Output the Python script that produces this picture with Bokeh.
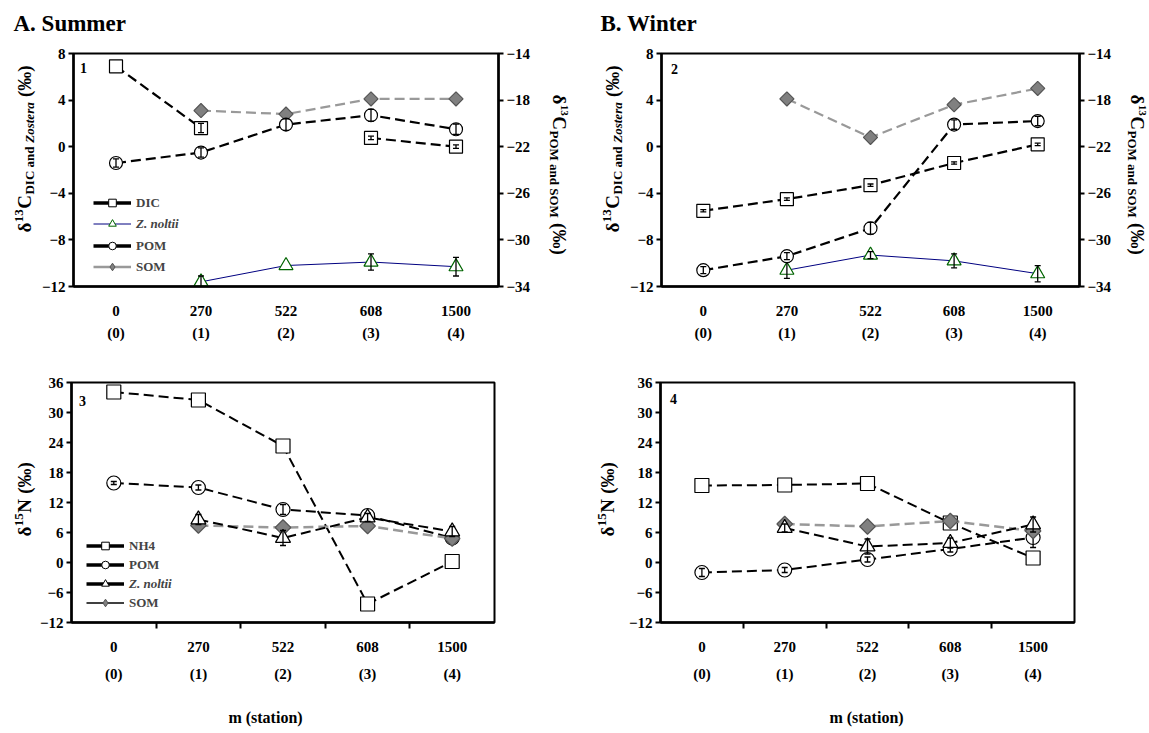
import math
import numpy as np
from bokeh.plotting import figure
from bokeh.models import Range1d, LinearAxis, FixedTicker, Label, Legend, LegendItem
from bokeh.layouts import column, row
from bokeh.embed import file_html
from bokeh.resources import INLINE

FONT = "Liberation Serif"
nan = float("nan")

# ---------------- data ----------------
positions = [1, 2, 3, 4, 5]
distances = ["0", "270", "522", "608", "1500"]
stations = ["(0)", "(1)", "(2)", "(3)", "(4)"]
c13_left_ticks = [-12, -8, -4, 0, 4, 8]
c13_right_ticks = [-34, -30, -26, -22, -18, -14]
n15_ticks = [-12, -6, 0, 6, 12, 18, 24, 30, 36]

# Summer d13C (DIC, Z. noltii on left axis; POM, SOM on right axis)
s13_dic = [6.9, 1.6, nan, 0.75, 0.0]
s13_dic_err = [0.0, 0.4, 0.0, 0.15, 0.15]
s13_zn = [nan, -11.6, -10.2, -9.9, -10.3]
s13_zn_err = [0.0, 0.5, 0.0, 0.7, 0.8]
s13_pom = [-23.4, -22.5, -20.1, -19.3, -20.5]
s13_pom_err = [0.35, 0.4, 0.5, 0.5, 0.45]
s13_som = [nan, -18.9, -19.2, -17.9, -17.9]

# Winter d13C
w13_dic = [-5.5, -4.5, -3.3, -1.4, 0.2]
w13_dic_err = [0.1, 0.1, 0.1, 0.1, 0.1]
w13_zn = [nan, -10.6, -9.3, -9.8, -10.9]
w13_zn_err = [0.0, 0.7, 0.3, 0.6, 0.7]
w13_pom = [-32.6, -31.4, -29.0, -20.1, -19.8]
w13_pom_err = [0.3, 0.3, 0.5, 0.4, 0.4]
w13_som = [nan, -17.9, -21.2, -18.4, -17.0]

# Summer d15N
s15_nh4 = [34.1, 32.5, 23.3, -8.3, 0.2]
s15_pom = [15.9, 15.0, 10.6, 9.4, 4.9]
s15_pom_err = [0.3, 0.5, 1.0, 0.5, 0.5]
s15_zn = [nan, 8.6, 4.9, 9.0, 6.2]
s15_zn_err = [0.0, 1.0, 1.5, 0.8, 1.0]
s15_som = [nan, 7.4, 7.0, 7.3, 4.8]

# Winter d15N
w15_nh4 = [15.4, 15.5, 15.8, 7.9, 0.9]
w15_pom = [-2.0, -1.5, 0.6, 2.7, 5.0]
w15_pom_err = [0.8, 0.5, 0.5, 0.6, 2.0]
w15_zn = [nan, 6.9, 3.2, 3.9, 7.6]
w15_zn_err = [0.0, 0.8, 1.5, 1.0, 1.5]
w15_som = [nan, 7.7, 7.2, 8.3, 6.3]

# ---------------- helpers ----------------
BOLD = {'δ': 500, '1': 500, '3': 500, '5': 500, 'C': 722, 'D': 722, 'I': 389, ' ': 250,
        'a': 500, 'n': 556, 'd': 556, '(': 333, ')': 333, '‰': 1000, 'P': 611,
        'O': 778, 'M': 944, 'S': 556, 'N': 722}
BOLDIT = {'Z': 611, 'o': 500, 's': 389, 't': 278, 'e': 444, 'r': 389, 'a': 500, ' ': 250}


def text_width(t, size, italic):
    table = BOLDIT if italic else BOLD
    return sum(table.get(c, 500) for c in t) / 1000.0 * size


def style_axis(ax):
    ax.axis_line_width = 2.5
    ax.axis_line_color = "black"
    ax.major_tick_line_width = 2
    ax.major_tick_line_color = "black"
    ax.major_tick_out = 5
    ax.major_tick_in = 0
    ax.minor_tick_line_color = None
    ax.major_label_text_font = FONT
    ax.major_label_text_font_style = "bold"
    ax.major_label_text_font_size = "15px"
    ax.major_label_text_color = "black"
    ax.major_label_standoff = 3


def make_fig(bl, fw, br, bt, fh, bb, yr, yticks):
    p = figure(frame_width=fw, frame_height=fh,
               min_border_left=bl, min_border_right=br,
               min_border_top=bt, min_border_bottom=bb,
               x_range=Range1d(0.5, 5.5), y_range=Range1d(*yr), title=None,
               output_backend="svg", toolbar_location=None, tools="")
    p.xgrid.visible = False
    p.ygrid.visible = False
    p.outline_line_color = "black"
    p.outline_line_width = 2
    p.outline_line_alpha = 1
    p.background_fill_color = "white"
    p.border_fill_color = "white"
    ya = p.yaxis[0]
    style_axis(ya)
    ya.ticker = FixedTicker(ticks=yticks)
    return p


def label_fig(w, fh, bt=0, bb=0):
    # plain text strip; its frame matches the neighbouring plots' frames (rows align frames),
    # data units equal pixels, measured from the frame's bottom-left corner
    p = figure(frame_width=w, frame_height=fh, min_border_left=0, min_border_right=0,
               min_border_top=bt, min_border_bottom=bb,
               x_range=Range1d(0, w), y_range=Range1d(0, fh),
               x_axis_type=None, y_axis_type=None, title=None,
               output_backend="svg", toolbar_location=None, tools="")
    p.outline_line_color = None
    p.background_fill_color = "white"
    p.border_fill_color = "white"
    return p


def x_axes_top(p):
    xa = p.xaxis[0]
    style_axis(xa)
    xa.ticker = FixedTicker(ticks=positions)
    xa.major_label_overrides = dict(zip(positions, distances))
    xa.major_tick_line_color = None
    xa.major_tick_out = 0
    xa.major_label_standoff = 19
    xb = LinearAxis(ticker=FixedTicker(ticks=positions),
                    major_label_overrides=dict(zip(positions, stations)))
    style_axis(xb)
    xb.axis_line_color = None
    xb.major_tick_line_color = None
    xb.major_tick_out = 0
    xb.major_label_standoff = 6
    p.add_layout(xb, "below")


def x_axes_bottom(p):
    xt = p.xaxis[0]
    style_axis(xt)
    bounds = [1.5, 2.5, 3.5, 4.5]
    xt.ticker = FixedTicker(ticks=bounds)
    xt.major_label_overrides = {b: "" for b in bounds}
    xt.major_label_text_font_size = "1px"
    xt.major_label_standoff = 0
    xt.major_tick_out = 6
    xa = LinearAxis(ticker=FixedTicker(ticks=positions),
                    major_label_overrides=dict(zip(positions, distances)))
    style_axis(xa)
    xa.axis_line_color = None
    xa.major_tick_line_color = None
    xa.major_tick_out = 0
    xa.major_label_standoff = 13
    p.add_layout(xa, "below")
    xb = LinearAxis(ticker=FixedTicker(ticks=positions),
                    major_label_overrides=dict(zip(positions, stations)))
    style_axis(xb)
    xb.axis_line_color = None
    xb.major_tick_line_color = None
    xb.major_tick_out = 0
    xb.major_label_standoff = 11
    p.add_layout(xb, "below")


def txt(p, fr, px, py, text, size, align="left", baseline="middle", style="bold"):
    # text inside a plot frame, placed by pixel offsets from a data anchor (no rotation)
    fl, fb, x0, y0 = fr
    p.add_layout(Label(x=x0, y=y0, x_offset=px - fl, y_offset=fb - py, text=text,
                       text_font=FONT, text_font_size=f"{size}px", text_font_style=style,
                       text_align=align, text_baseline=baseline, text_color="black"))


def ltxt(p, left, bottom, px, py, text, size, angle=0.0, align="left", baseline="middle",
         style="bold"):
    # text in a label strip: left/bottom are the page coordinates of its frame corner
    p.add_layout(Label(x=px - left, y=bottom - py, text=text, angle=angle,
                       text_font=FONT, text_font_size=f"{size}px", text_font_style=style,
                       text_align=align, text_baseline=baseline, text_color="black"))


def vlabel(p, left, bottom, cx, ystart, pieces, up=True):
    # each piece is centred on its own anchor; leading/trailing spaces become gaps
    pos = ystart
    sign = -1 if up else 1
    angle = math.pi / 2 if up else -math.pi / 2
    for text, size, italic, shift in pieces:
        style = "bold italic" if italic else "bold"
        core = text.strip()
        lead = text_width(text[:len(text) - len(text.lstrip())], size, italic)
        trail = text_width(text[len(text.rstrip()):], size, italic)
        w = text_width(core, size, italic) + 0.5
        pos += sign * lead
        px = cx - shift if up else cx + shift
        ltxt(p, left, bottom, px, pos + sign * w / 2, core, size, angle=angle,
             align="center", style=style)
        pos += sign * (w + trail)


def series(p, y, lc, lw, dash, marker, msize, fill, mline, angle=0.0, rng=None, err=None,
           mlw=1.2):
    kw = {} if rng is None else {"y_range_name": rng}
    ya = np.array(y, dtype=float)
    p.line(positions, ya, line_color=lc, line_width=lw, line_dash=dash, **kw)
    p.scatter(positions, ya, marker=marker, size=msize, fill_color=fill,
              line_color=mline, line_width=mlw, angle=angle, **kw)
    if err is not None:
        ea = np.array(err, dtype=float)
        ea[ea == 0] = nan
        lo = ya - ea
        hi = ya + ea
        p.segment(positions, lo, positions, hi, line_color="black", line_width=1.3, **kw)
        p.scatter(positions, hi, marker="dash", size=6, line_color="black", line_width=1.3, **kw)
        p.scatter(positions, lo, marker="dash", size=6, line_color="black", line_width=1.3, **kw)


def legend_row(p, label, line_kw, marker_kw, x, y, italic=False):
    dummy = np.array([nan])
    lr = p.line(dummy, dummy, **line_kw)
    sr = p.scatter(dummy, dummy, **marker_kw)
    leg = Legend(items=[LegendItem(label=label, renderers=[lr, sr])], location=(x, y),
                 border_line_color=None, background_fill_alpha=0,
                 label_text_font=FONT,
                 label_text_font_style="bold italic" if italic else "bold",
                 label_text_font_size="13px", glyph_width=38, glyph_height=19,
                 label_height=19, spacing=0, padding=0, margin=0, label_standoff=5)
    p.add_layout(leg)


DASH = "10 5"
GRAY_LINE = "#999999"
GRAY_FILL = "#808080"
NAVY = "#000080"
DKGREEN = "#006400"
DIAMOND = math.pi / 4

# (text, font px, italic, shift of the text's centre line: + superscript, - subscript)
c13_pieces = [("δ", 19, False, 0), ("13", 13, False, 6), ("C", 19, False, 0),
              ("DIC and ", 13, False, -5), ("Zostera", 13, True, -5), (" (‰)", 19, False, 0)]
c13r_pieces = [("δ", 19, False, 0), ("13", 11, False, 5), ("C", 19, False, 0),
               ("POM and SOM", 13, False, -5), (" (‰)", 19, False, 0)]
n15_pieces = [("δ", 19, False, 0), ("15", 13, False, 6), ("N", 19, False, 0),
              (" (‰)", 19, False, 0)]

# page geometry: top-row frames y 53-286, bottom-row frames y 382-622
TOP_BT, TOP_FH, TOP_BB = 13, 233, 69
BOT_BT, BOT_FH, BOT_BB = 27, 240, 78
TOP_FB = 286
BOT_FB = 622

# ---------------- title strip (page y 0-40) ----------------
T = label_fig(1149, 40)
ltxt(T, 0, 40, 13, 23, "A. Summer", 23)
ltxt(T, 0, 40, 600, 23, "B. Winter", 23)

# ---------------- top row (page y 40-355) ----------------
L1 = label_fig(38, TOP_FH, TOP_BT, TOP_BB)
vlabel(L1, 0, TOP_FB, 24, 232, c13_pieces, up=True)

# panel 1: summer d13C ; page x 38-535, frame 67-492
f1 = make_fig(29, 425, 43, TOP_BT, TOP_FH, TOP_BB, (-12, 8), c13_left_ticks)
f1.extra_y_ranges = {"r": Range1d(-34, -14)}
r1 = LinearAxis(y_range_name="r", ticker=FixedTicker(ticks=c13_right_ticks))
style_axis(r1)
f1.add_layout(r1, "right")
x_axes_top(f1)
series(f1, s13_zn, NAVY, 1, "solid", "triangle", 14, "white", DKGREEN, err=s13_zn_err)
series(f1, s13_dic, "black", 2.2, DASH, "square", 13, "white", "black", err=s13_dic_err)
series(f1, s13_som, GRAY_LINE, 2.2, DASH, "square", 10, GRAY_FILL, "#555555", angle=DIAMOND, rng="r")
series(f1, s13_pom, "black", 2.2, DASH, "circle", 13, "white", "black", rng="r", err=s13_pom_err)
fr1 = (67, TOP_FB, 0.5, -12)
txt(f1, fr1, 77, 67, "1", 14, align="center")
legend_row(f1, "DIC", dict(line_color="black", line_width=3.5),
           dict(marker="square", fill_color="white", line_color="black"), 20, 74)
legend_row(f1, "Z. noltii", dict(line_color=NAVY, line_width=1),
           dict(marker="triangle", fill_color="white", line_color=DKGREEN), 20, 53, italic=True)
legend_row(f1, "POM", dict(line_color="black", line_width=3.5),
           dict(marker="circle", fill_color="white", line_color="black"), 20, 31)
legend_row(f1, "SOM", dict(line_color=GRAY_LINE, line_width=2.5),
           dict(marker="diamond", fill_color=GRAY_FILL, line_color="#555555"), 20, 10)

# middle label strip: page x 535-620
M1 = label_fig(85, TOP_FH, TOP_BT, TOP_BB)
vlabel(M1, 535, TOP_FB, 553, 94, c13r_pieces, up=False)
vlabel(M1, 535, TOP_FB, 606, 232, c13_pieces, up=True)

# panel 2: winter d13C ; page x 620-1110, frame 655-1073
f2 = make_fig(35, 418, 37, TOP_BT, TOP_FH, TOP_BB, (-12, 8), c13_left_ticks)
f2.extra_y_ranges = {"r": Range1d(-34, -14)}
r2 = LinearAxis(y_range_name="r", ticker=FixedTicker(ticks=c13_right_ticks))
style_axis(r2)
f2.add_layout(r2, "right")
x_axes_top(f2)
series(f2, w13_zn, NAVY, 1, "solid", "triangle", 14, "white", DKGREEN, err=w13_zn_err)
series(f2, w13_dic, "black", 2.2, DASH, "square", 13, "white", "black", err=w13_dic_err)
series(f2, w13_som, GRAY_LINE, 2.2, DASH, "square", 10, GRAY_FILL, "#555555", angle=DIAMOND, rng="r")
series(f2, w13_pom, "black", 2.2, DASH, "circle", 13, "white", "black", rng="r", err=w13_pom_err)
fr2 = (655, TOP_FB, 0.5, -12)
txt(f2, fr2, 668, 68, "2", 14, align="center")

R2 = label_fig(39, TOP_FH, TOP_BT, TOP_BB)
vlabel(R2, 1110, TOP_FB, 1131, 94, c13r_pieces, up=False)

# ---------------- bottom row (page y 355-700) ----------------
L3 = label_fig(36, BOT_FH, BOT_BT, BOT_BB)
vlabel(L3, 0, BOT_FB, 24, 536, n15_pieces, up=True)

# panel 3: summer d15N ; page x 36-580, frame 70-493
f3 = make_fig(34, 423, 87, BOT_BT, BOT_FH, BOT_BB, (-12, 36), n15_ticks)
x_axes_bottom(f3)
series(f3, s15_nh4, "black", 2, DASH, "square", 14, "white", "black")
series(f3, s15_pom, "black", 2, DASH, "circle", 14, "white", "black", err=s15_pom_err)
series(f3, s15_som, GRAY_LINE, 2.5, DASH, "square", 11, GRAY_FILL, "#555555", angle=DIAMOND)
series(f3, s15_zn, "black", 2, DASH, "triangle", 15, "white", "black", err=s15_zn_err)
fr3 = (70, BOT_FB, 0.5, -12)
txt(f3, fr3, 81, 400, "3", 14, align="center")
legend_row(f3, "NH4", dict(line_color="black", line_width=3.5),
           dict(marker="square", fill_color="white", line_color="black"), 15, 67)
legend_row(f3, "POM", dict(line_color="black", line_width=3.5),
           dict(marker="circle", fill_color="white", line_color="black"), 15, 48)
legend_row(f3, "Z. noltii", dict(line_color="black", line_width=3.5),
           dict(marker="triangle", fill_color="white", line_color="black"), 15, 29, italic=True)
legend_row(f3, "SOM", dict(line_color="black", line_width=1.5),
           dict(marker="diamond", fill_color=GRAY_FILL, line_color="#555555"), 15, 10)

M3 = label_fig(44, BOT_FH, BOT_BT, BOT_BB)
vlabel(M3, 580, BOT_FB, 606, 536, n15_pieces, up=True)

# panel 4: winter d15N ; page x 624-1149, frame 659-1073
f4 = make_fig(35, 414, 76, BOT_BT, BOT_FH, BOT_BB, (-12, 36), n15_ticks)
x_axes_bottom(f4)
series(f4, w15_nh4, "black", 2, DASH, "square", 14, "white", "black")
series(f4, w15_pom, "black", 2, DASH, "circle", 14, "white", "black", err=w15_pom_err)
series(f4, w15_som, GRAY_LINE, 2.5, DASH, "square", 11, GRAY_FILL, "#555555", angle=DIAMOND)
series(f4, w15_zn, "black", 2, DASH, "triangle", 15, "white", "black", err=w15_zn_err)
fr4 = (659, BOT_FB, 0.5, -12)
txt(f4, fr4, 672, 398, "4", 14, align="center")

# ---------------- bottom strip (page y 700-733) ----------------
B = label_fig(1149, 33)
ltxt(B, 0, 733, 265, 717, "m (station)", 16, align="center")
ltxt(B, 0, 733, 866, 717, "m (station)", 16, align="center")

layout = column(T,
                row(L1, f1, M1, f2, R2),
                row(L3, f3, M3, f4),
                B)
open("out.html", "w").write(file_html(layout, INLINE))
